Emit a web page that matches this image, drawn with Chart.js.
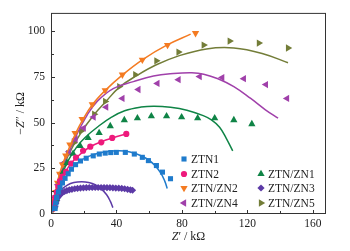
<!DOCTYPE html>
<html>
<head>
<meta charset="utf-8">
<script src="https://cdn.jsdelivr.net/npm/chart.js@4.4.0/dist/chart.umd.min.js"></script>
<style>
  html, body { margin: 0; padding: 0; background: #fff; }
  #wrap { width: 350px; height: 251px; }
</style>
</head>
<body>
<div id="wrap"><canvas id="eisChart" width="350" height="251"></canvas></div>
<script>
// Nyquist data, Z' and -Z'' in kOhm
const ztn1Pts = [[2.5,3],[3,6],[3.5,9],[4.5,12],[5.5,14.5],[7,17],[8.6,19.5],[10.5,22],[12.5,24.5],[15,27],[18,29],[21.5,30.5],[25.8,31.8],[29.5,32.8],[33.1,33.3],[36.5,33.6],[39.9,33.7],[45.4,33.7],[50.9,32.8],[55.8,31],[59.5,29.2],[64.4,26.5],[68.1,22.9],[73,19.3]];
const ztn1Fit = [[0.5,1],[1.5,5],[3,10],[5,14.5],[8,19],[12,24],[17,28.5],[23,31.5],[30,33.5],[37,34.5],[45,34.5],[52,33],[58,30.5],[63,27],[67,22.5],[69.5,18],[71,14]];

const ztn2Pts = [[1.5,3],[2,6],[2.5,9],[3.5,12],[4.5,15],[5.5,18],[7,20.5],[9.2,23],[12.3,27.6],[15.3,30.8],[19.6,34.6],[24,36.8],[30.7,39.2],[37.4,41.6],[46,43.8]];
const ztn2Fit = [[0.5,1],[1.5,5],[3,11],[5,16],[7.5,21],[10.5,25.5],[14,29.5],[19,33.5],[24,36.8],[31,39.6],[38,41.7],[46,43.8]];

const zn1Pts = [[2,4],[3,8],[4,13],[5.5,18],[7.5,23],[9.8,28],[13.5,33],[17.8,37.3],[22.7,41.6],[29.4,44.3],[36.2,48.1],[44.8,51.4],[52.8,52.4],[61.3,53.5],[70.6,53.5],[79.8,53],[89.6,52.4],[100,52.4],[111.7,51.4],[122.7,49.2]];
const zn1Fit = [[1,1],[2,5],[4,13],[7,22],[11,30],[16,37],[21,42],[29,48],[37,53],[45,56.5],[55,58.5],[63,59],[73,58.4],[83,56.8],[93,53.8],[98,51.5],[103,47.5],[107,41.5],[111,34.5]];

const zn2Pts = [[1.5,3],[2.2,7],[3,12],[4,17],[5.3,22],[7,27],[9,32],[11.5,38],[14.7,44.3],[19,51.9],[25.2,60],[33.1,67.6],[43.6,76.2],[55.8,84.3],[71.2,92.4],[88.3,98.9]];
const zn2Fit = [[1,1],[2,8],[4,18],[7,27],[11,36],[15,44],[19,51],[25,59.5],[33,67.5],[43.5,76],[56,84.5],[71,92.5],[85.3,98.4]];

const zn3Pts = [[2.5,4],[3,6],[3.5,7.5],[4.2,9],[5,10],[6,11],[7,11.7],[8.3,12.3],[9.7,12.8],[11.2,13.2],[12.8,13.5],[14.5,13.8],[16.2,14],[18,14.2],[19.8,14.3],[21.6,14.4],[23.4,14.5],[25.2,14.5],[27,14.5],[28.8,14.5],[30.6,14.5],[32.4,14.5],[34.2,14.4],[36,14.4],[37.8,14.3],[39.6,14.2],[41.4,14.1],[43.2,14],[45,13.8],[46.8,13.5],[48.5,13.2],[49.8,13]];
const zn3Fit = [[1,1],[2,5],[3.5,9.5],[6,13],[10,15.8],[14,17.2],[18.8,17.6],[23,17.2],[27,16],[31,13.5],[34,10.5],[36.2,7],[37.8,3.5]];

const zn4Pts = [[2.2,5],[3.2,10],[4.3,16],[6,22],[8,28],[11,34],[15,41],[20,47],[26,53],[33.7,58.4],[43.6,63.2],[53.4,68.1],[65,71.4],[77.9,73.5],[90.8,75.2],[104.6,74.6],[117.8,74],[131.3,70.8],[144.2,63.2]];
const zn4Fit = [[1,1],[2,6],[4,15],[7,25],[11,34],[16,44],[22,54],[28.2,61.6],[38,68.6],[50.3,72.4],[62.6,75.5],[74.8,76.8],[86,77.2],[93.3,76.5],[102,74],[111.7,69.7],[122,63.2],[131,57],[138.7,52.4]];

const zn5Pts = [[1.5,2.5],[2.3,6],[3.3,11],[4.5,16],[6,21],[8,27],[10.5,33],[14,39],[18.4,45.4],[26.4,54.6],[33.1,61.6],[41.7,69.7],[51.5,76.2],[64.4,83.8],[77.9,88.6],[93.3,92.4],[109.2,94.6],[127,93.5],[144.8,90.8]];
const zn5Fit = [[1,1],[2,6],[4,15],[7,24],[11,33],[18,44],[26,54],[33,61],[42,69.5],[52,75.5],[64,81.5],[78,86.5],[95,90.3],[111.7,90.8],[129,87.8],[144.8,82.7]];

const xTicks = [0, 40, 80, 120, 160];
const yTicks = [0, 25, 50, 75, 100];

const serif = '"Liberation Serif", "DejaVu Serif", serif';

function toXY(arr) {
  return arr.map(p => ({ x: p[0], y: p[1] }));
}

// one marker set + one fitted curve per sample
const series = [
  { label: 'ZTN1', pts: ztn1Pts, fit: ztn1Fit, color: '#1f7bcc', style: 'rect', rot: 0, r: 3.6 },
  { label: 'ZTN2', pts: ztn2Pts, fit: ztn2Fit, color: '#ee1a7c', style: 'circle', rot: 0, r: 3.1 },
  { label: 'ZTN/ZN1', pts: zn1Pts, fit: zn1Fit, color: '#0f8446', style: 'triangle', rot: 0, r: 4.2 },
  { label: 'ZTN/ZN2', pts: zn2Pts, fit: zn2Fit, color: '#f47b22', style: 'triangle', rot: 180, r: 4.2 },
  { label: 'ZTN/ZN3', pts: zn3Pts, fit: zn3Fit, color: '#5c3aa6', style: 'rectRot', rot: 0, r: 3.6 },
  { label: 'ZTN/ZN4', pts: zn4Pts, fit: zn4Fit, color: '#a040aa', style: 'triangle', rot: 270, r: 4.2 },
  { label: 'ZTN/ZN5', pts: zn5Pts, fit: zn5Fit, color: '#737d38', style: 'triangle', rot: 90, r: 4.2 }
];

const datasets = [];
series.forEach(s => {
  datasets.push({
    label: s.label + ' fit',
    data: toXY(s.fit),
    showLine: true,
    borderColor: s.color,
    borderWidth: 1.5,
    pointRadius: 0,
    tension: 0.4,
    fill: false
  });
  datasets.push({
    label: s.label,
    data: toXY(s.pts),
    showLine: false,
    pointStyle: s.style,
    pointRotation: s.rot,
    pointRadius: s.r,
    pointBackgroundColor: s.color,
    pointBorderWidth: 0
  });
});

// frame, inward ticks, axis titles and two-column legend
const decor = {
  id: 'decor',
  afterDraw(chart) {
    const { ctx, chartArea: a, scales: { x, y } } = chart;
    ctx.save();
    ctx.strokeStyle = '#333';
    ctx.lineWidth = 1;
    ctx.strokeRect(a.left + 0.5, a.top + 0.5, a.right - a.left - 1, a.bottom - a.top - 1);

    ctx.beginPath();
    for (let v = 20; v <= 160; v += 20) {
      const px = Math.round(x.getPixelForValue(v)) + 0.5;
      const len = v % 40 ? 3 : 4;
      ctx.moveTo(px, a.bottom);
      ctx.lineTo(px, a.bottom - len);
    }
    for (let v = 12.5; v <= 100; v += 12.5) {
      const py = Math.round(y.getPixelForValue(v)) + 0.5;
      const len = v % 25 ? 3 : 4;
      ctx.moveTo(a.left, py);
      ctx.lineTo(a.left + len, py);
    }
    ctx.stroke();

    // axis titles with italic Z
    ctx.fillStyle = '#222';
    ctx.textBaseline = 'middle';
    const drawParts = (parts, cx, cy) => {
      let total = 0;
      parts.forEach(p => { ctx.font = p[1]; total += ctx.measureText(p[0]).width; });
      let xx = cx - total / 2;
      parts.forEach(p => {
        ctx.font = p[1];
        ctx.textAlign = 'left';
        ctx.fillText(p[0], xx, cy);
        xx += ctx.measureText(p[0]).width;
      });
    };
    const up = '12px ' + serif;
    const it = 'italic 12px ' + serif;
    drawParts([['Z', it], ['\u2032 / k\u03A9', up]], (a.left + a.right) / 2, 237);
    ctx.save();
    ctx.translate(21, (a.top + a.bottom) / 2);
    ctx.rotate(-Math.PI / 2);
    drawParts([['\u2212', up], ['Z', it], ['\u2033 / k\u03A9', up]], 0, 0);
    ctx.restore();

    // legend
    const spots = {
      'ZTN1': [184, 159], 'ZTN2': [184, 174], 'ZTN/ZN2': [184, 188], 'ZTN/ZN4': [184, 203],
      'ZTN/ZN1': [261, 174], 'ZTN/ZN3': [261, 188], 'ZTN/ZN5': [261, 203]
    };
    ctx.font = '11.5px ' + serif;
    ctx.textAlign = 'left';
    series.forEach(s => {
      const [lx, ly] = spots[s.label];
      ctx.fillStyle = s.color;
      Chart.helpers.drawPoint(ctx, { pointStyle: s.style, rotation: s.rot, radius: s.r, borderWidth: 0 }, lx, ly);
      ctx.fillStyle = '#222';
      ctx.fillText(s.label, lx + 7, ly + 0.5);
    });
    ctx.restore();
  }
};

const ctx = document.getElementById('eisChart').getContext('2d');
window.eisChart = new Chart(ctx, {
  type: 'scatter',
  data: { datasets: datasets },
  options: {
    responsive: false,
    animation: false,
    layout: { padding: { left: 0, right: 24, top: 10, bottom: 0 } },
    plugins: { legend: { display: false }, tooltip: { enabled: false } },
    scales: {
      x: {
        type: 'linear',
        min: 0,
        max: 168,
        afterFit: s => { s.height = 37; },
        afterBuildTicks: s => { s.ticks = xTicks.map(v => ({ value: v })); },
        grid: { display: false, drawTicks: false },
        border: { display: false },
        ticks: { padding: 3, maxRotation: 0, color: '#222', font: { family: serif, size: 11.5 } }
      },
      y: {
        type: 'linear',
        min: 0,
        max: 110,
        afterFit: s => { s.width = 51; },
        afterBuildTicks: s => { s.ticks = yTicks.map(v => ({ value: v })); },
        grid: { display: false, drawTicks: false },
        border: { display: false },
        ticks: { padding: 6, color: '#222', font: { family: serif, size: 11.5 } }
      }
    }
  },
  plugins: [decor]
});
</script>
</body>
</html>
